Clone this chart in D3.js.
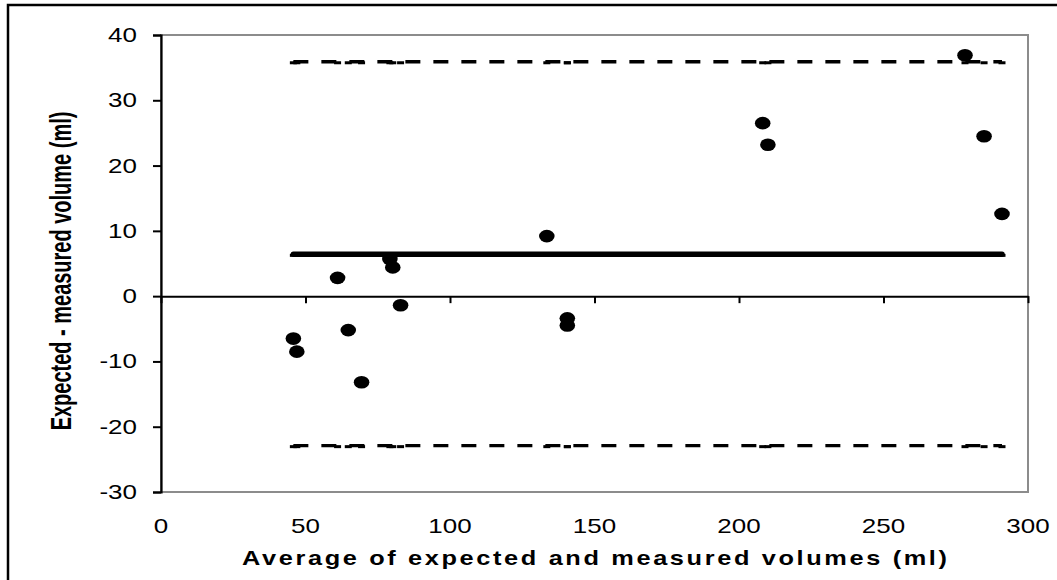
<!DOCTYPE html>
<html>
<head>
<meta charset="utf-8">
<script src="https://cdn.jsdelivr.net/npm/d3@7"></script>
<style>
  html, body { margin: 0; padding: 0; background: #fff; }
  svg { display: block; }
  text { font-family: "Liberation Sans", Arial, sans-serif; fill: #000; }
</style>
</head>
<body>
<svg id="chart" width="1057" height="580"></svg>
<script>
// Bland-Altman data: average of expected and measured volume vs their difference
const avgVolume = [45.8, 47.0, 61.1, 64.8, 69.4, 79.2, 80.2, 82.9, 133.5, 140.6, 140.6, 208.2, 210.0, 278.2, 284.8, 291.0];
const volumeDiff = [-6.5, -8.5, 2.8, -5.2, -13.2, 5.7, 4.4, -1.4, 9.2, -3.4, -4.5, 26.5, 23.2, 36.9, 24.5, 12.6];
const meanDiff = 6.4;
const upperLimit = 35.9;
const lowerLimit = -22.9;
const xTicks = [0, 50, 100, 150, 200, 250, 300];
const yTicks = [-30, -20, -10, 0, 10, 20, 30, 40];
const xTitle = "Average of expected and measured volumes (ml)";
const yTitle = "Expected - measured volume (ml)";

const svg = d3.select("#chart");
const stretch = 1.3; // horizontal glyph stretch of the exported chart

const x = d3.scaleLinear().domain([0, 300]).range([161, 1028]);
const y = d3.scaleLinear().domain([-30, 40]).range([492, 35]);

// outer chart frame
svg.append("rect")
  .attr("x", 8).attr("y", 5).attr("width", 1120).attr("height", 620)
  .attr("fill", "none").attr("stroke", "#000").attr("stroke-width", 2.5);

// plot area border (grey)
svg.append("rect")
  .attr("x", x(0)).attr("y", y(40))
  .attr("width", x(300) - x(0)).attr("height", y(-30) - y(40))
  .attr("fill", "none").attr("stroke", "#8c8c8c").attr("stroke-width", 2);

// y axis
const yAxis = d3.axisLeft(y).tickValues(yTicks).tickSize(8).tickFormat("");
const gy = svg.append("g").attr("transform", `translate(${x(0)},0)`).call(yAxis);
gy.select(".domain").attr("stroke", "#000").attr("stroke-width", 2.2);
gy.selectAll(".tick line").attr("stroke", "#000").attr("stroke-width", 2);

// x axis drawn along the zero line, ticks hanging below
const xAxis = d3.axisBottom(x).tickValues(xTicks).tickSize(7).tickSizeOuter(0).tickFormat("");
const gx = svg.append("g").attr("transform", `translate(0,${y(0)})`).call(xAxis);
gx.select(".domain").attr("stroke", "#000").attr("stroke-width", 2);
gx.selectAll(".tick line").attr("stroke", "#000").attr("stroke-width", 2);

// tick labels
svg.append("g").selectAll("text").data(yTicks).join("text")
  .attr("transform", d => `translate(137,${y(d) + 7}) scale(${stretch},1)`)
  .attr("text-anchor", "end")
  .attr("font-size", 20)
  .text(d => d);

svg.append("g").selectAll("text").data(xTicks).join("text")
  .attr("transform", d => `translate(${x(d)},533) scale(${stretch},1)`)
  .attr("text-anchor", "middle")
  .attr("font-size", 20)
  .text(d => d);

// axis titles
svg.append("text")
  .attr("transform", `translate(594.5,565) scale(${stretch},1)`)
  .attr("text-anchor", "middle")
  .attr("font-size", 19.5)
  .attr("font-weight", "bold")
  .attr("textLength", 705 / stretch)
  .attr("lengthAdjust", "spacing")
  .text(xTitle);

svg.append("text")
  .attr("transform", `translate(71,271) scale(1.45,1) rotate(-90)`)
  .attr("text-anchor", "middle")
  .attr("font-size", 20)
  .attr("font-weight", "bold")
  .text(yTitle);

// mean and limits of agreement span the observed range of averages
const xExtent = d3.extent(avgVolume);
const line = d3.line().x(d => x(d[0])).y(d => y(d[1]));

function refLine(level, width, dash, cap) {
  const pts = avgVolume.slice().sort(d3.ascending).map(v => [v, level]);
  svg.append("path")
    .attr("d", line([[xExtent[0], level], [xExtent[1], level]]))
    .attr("fill", "none").attr("stroke", "#000")
    .attr("stroke-width", width)
    .attr("stroke-linecap", cap)
    .attr("stroke-dasharray", dash);
  // dash-shaped series markers at each observation
  svg.append("g").selectAll("rect").data(pts).join("rect")
    .attr("x", d => x(d[0]) - 3.5).attr("y", d => y(d[1]) - 0.5)
    .attr("width", 7).attr("height", 3)
    .attr("fill", "#000");
}

refLine(upperLimit, 3.3, "15,13", "butt");
refLine(lowerLimit, 3.3, "15,13", "butt");
refLine(meanDiff, 5.5, null, "round");

// data points
svg.append("g").selectAll("ellipse").data(avgVolume).join("ellipse")
  .attr("cx", d => x(d))
  .attr("cy", (d, i) => y(volumeDiff[i]))
  .attr("rx", 7.8).attr("ry", 6.3)
  .attr("fill", "#000");
</script>
</body>
</html>
